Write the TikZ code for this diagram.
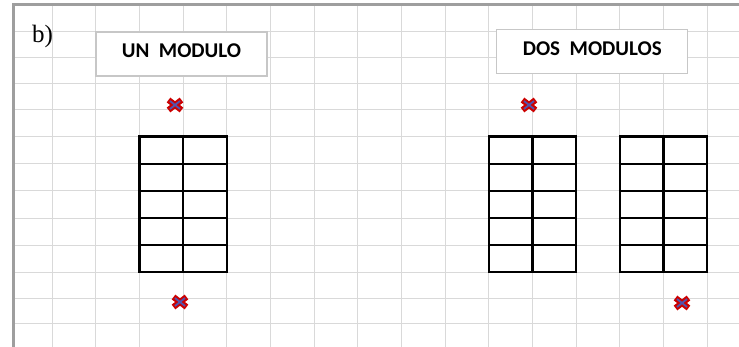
\documentclass[tikz,border=0pt]{standalone}
\usepackage{fontspec}
\setmainfont{Liberation Serif}
\newfontfamily\titlefont{Carlito}
\begin{document}
\begin{tikzpicture}[x=1pt, y=-1pt,
    gridline/.style={draw=black!15, line width=1pt},
    sheetborder/.style={draw=black!38, line width=3pt},
    module/.style={draw=black, line width=2.4pt},
    titlebox/.style={draw=black!22, line width=1.3pt, fill=white, minimum height=44pt, inner sep=0pt, text depth=6pt, font=\titlefont\bfseries\fontsize{21}{23}\selectfont},
    crossred/.style={draw=red!80!black, line width=6pt},
    crossblue/.style={draw=blue!35!gray, line width=1.8pt}]
  \useasboundingbox (0,0) rectangle (739,347);
  % spreadsheet grid
  \foreach \k in {0,...,15}
    \draw[gridline] ({52.3+43.65*\k},5) -- ({52.3+43.65*\k},347);
  \foreach \y in {32,58,84,110,136.7,164,191,218.3,245.3,272.3,298.3,324}
    \draw[gridline] (13,\y) -- (739,\y);
  \draw[sheetborder] (13,347) -- (13,5) -- (739,5);
  % titles
  \node (b) [anchor=base west, font=\fontsize{25}{27}\selectfont, inner sep=0pt] at (32,42.3) {b)};
  \node (un) [titlebox, minimum width=171pt] at (181.5,54) {UN\ \ MODULO};
  \node (dos) [titlebox, minimum width=191pt] at (592.3,51.3) {DOS\ \ MODULOS};
  % modules
  \foreach \x in {139.6,488.8,619.8} {
    \draw[module] (\x,136.7) rectangle ({\x+87.3},272.3);
    \draw[module] ({\x+43.65},136.7) -- ({\x+43.65},272.3);
    \foreach \y in {163.8,190.9,218,245.2}
      \draw[module] (\x,\y) -- ({\x+87.3},\y);
  }
  % crosses
  \coordinate (m1) at (175,105);
  \coordinate (m2) at (180,302);
  \coordinate (m3) at (529,105);
  \coordinate (m4) at (682,303);
  \foreach \m in {m1,m2,m3,m4} {
    \draw[crossred] ([shift={(-6.5,-5)}]\m) -- ([shift={(6.5,5)}]\m);
    \draw[crossred] ([shift={(-6.5,5)}]\m) -- ([shift={(6.5,-5)}]\m);
    \draw[crossblue] ([shift={(-5,-4)}]\m) -- ([shift={(5,4)}]\m);
    \draw[crossblue] ([shift={(-5,4)}]\m) -- ([shift={(5,-4)}]\m);
  }
\end{tikzpicture}
\end{document}
